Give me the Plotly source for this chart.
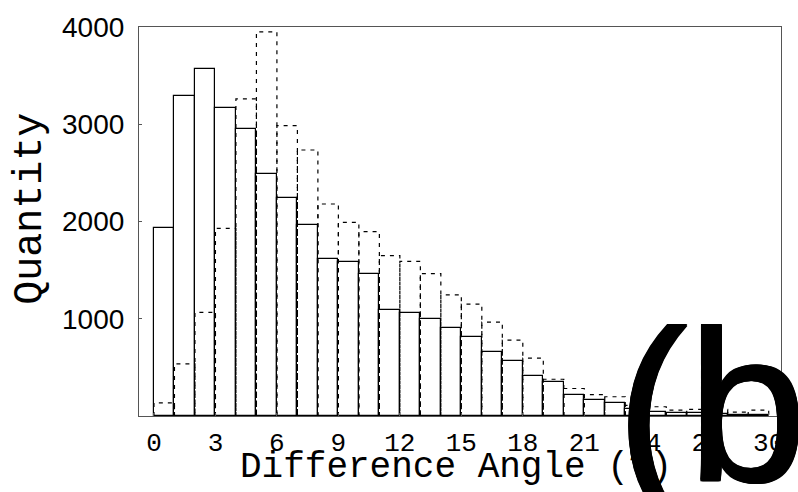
import plotly.graph_objects as go

# Histogram bins: difference angle in degrees, 1-degree bins from 0 to 30
bin_left = list(range(0, 30))
bin_width = 1

# Solid-outline histogram (quantity per bin)
solid_counts = [1930, 3290, 3570, 3165, 2950, 2485, 2240, 1960, 1610, 1585,
                1465, 1090, 1060, 1000, 905, 810, 660, 565, 410, 350,
                220, 165, 130, 68, 45, 35, 28, 22, 15, 10]

# Dashed-outline histogram (quantity per bin)
dashed_counts = [135, 535, 1065, 1930, 3260, 3950, 2985, 2735, 2180, 1990,
                 1895, 1650, 1590, 1465, 1245, 1150, 965, 780, 595, 378,
                 283, 220, 198, 110, 95, 60, 68, 68, 40, 60]

x_ticks = [0, 3, 6, 9, 12, 15, 18, 21, 24, 27, 30]
y_ticks = [1000, 2000, 3000, 4000]

x_title = "Difference Angle (?)"
y_title = "Quantity"
panel_label = "(b)"

W, H = 798, 492
ML, MR, MT, MB = 139, 17, 20, 76
plot_w = W - ML - MR
plot_h = H - MT - MB

def px_to_paper_x(px):
    return (px - ML) / plot_w

def px_to_paper_y(py):
    return (H - MB - py) / plot_h

fig = go.Figure()

# solid bars
centers = [b + bin_width / 2 for b in bin_left]
fig.add_trace(go.Bar(
    x=centers, y=solid_counts, width=bin_width,
    marker=dict(color="rgba(0,0,0,0)", line=dict(color="black", width=1.2)),
    showlegend=False, hoverinfo="skip",
))

# dashed outline histogram (built from the same bins)
dx, dy = [], []
for b, h in zip(bin_left, dashed_counts):
    dx += [b, b, b + bin_width, b + bin_width, None]
    dy += [0, h, h, 0, None]
fig.add_trace(go.Scatter(
    x=dx, y=dy, mode="lines",
    line=dict(color="black", width=1.2, dash="4px,5px"),
    showlegend=False, hoverinfo="skip",
))

axis_col = "#555555"
LABEL_SIZE = 215
TITLE_SIZE = 36
thick = ("1px 0 0 #000, -1px 0 0 #000, 0 1px 0 #000, 0 -1px 0 #000, "
         "1px 1px 0 #000, -1px -1px 0 #000, 1px -1px 0 #000, -1px 1px 0 #000")
fig.update_layout(
    width=W, height=H,
    margin=dict(l=ML, r=MR, t=MT, b=MB, pad=0),
    paper_bgcolor="white", plot_bgcolor="white",
    bargap=0,
    xaxis=dict(
        range=[-0.73, 30.6], tickmode="array", tickvals=x_ticks,
        ticktext=[str(t) for t in x_ticks],
        showgrid=False, zeroline=False,
        showline=True, linecolor=axis_col, linewidth=1.2, mirror=True,
        ticks="inside", ticklen=3, tickcolor=axis_col,
        tickfont=dict(family="Liberation Mono", size=26, color="black"),
        ticklabelstandoff=3,
    ),
    yaxis=dict(
        range=[0, 4000], tickmode="array", tickvals=y_ticks,
        ticktext=[str(t) for t in y_ticks],
        showgrid=False, zeroline=False,
        showline=True, linecolor=axis_col, linewidth=1.2, mirror=True,
        ticks="inside", ticklen=3, tickcolor=axis_col,
        tickfont=dict(family="Liberation Sans", size=28, color="black"),
        ticklabelstandoff=8,
    ),
    annotations=[
        dict(text=y_title, xref="paper", yref="paper",
             x=px_to_paper_x(31), y=px_to_paper_y(205),
             xanchor="center", yanchor="middle", textangle=-90,
             showarrow=False, borderpad=0,
             font=dict(family="Liberation Mono", size=40, color="black")),
        dict(text=x_title, xref="paper", yref="paper",
             x=px_to_paper_x(240 + 10 * 0.6 * TITLE_SIZE), y=px_to_paper_y(468),
             xanchor="center", yanchor="middle",
             showarrow=False, borderpad=0,
             font=dict(family="Liberation Mono", size=TITLE_SIZE, color="black")),
        dict(text=panel_label, xref="paper", yref="paper",
             x=px_to_paper_x(615), y=px_to_paper_y(483 + 0.212 * LABEL_SIZE + 1),
             xanchor="left", yanchor="bottom",
             showarrow=False, borderpad=0,
             font=dict(family="Liberation Sans", size=LABEL_SIZE, color="black",
                       shadow=thick)),
    ],
)

fig.write_html("out.html")
